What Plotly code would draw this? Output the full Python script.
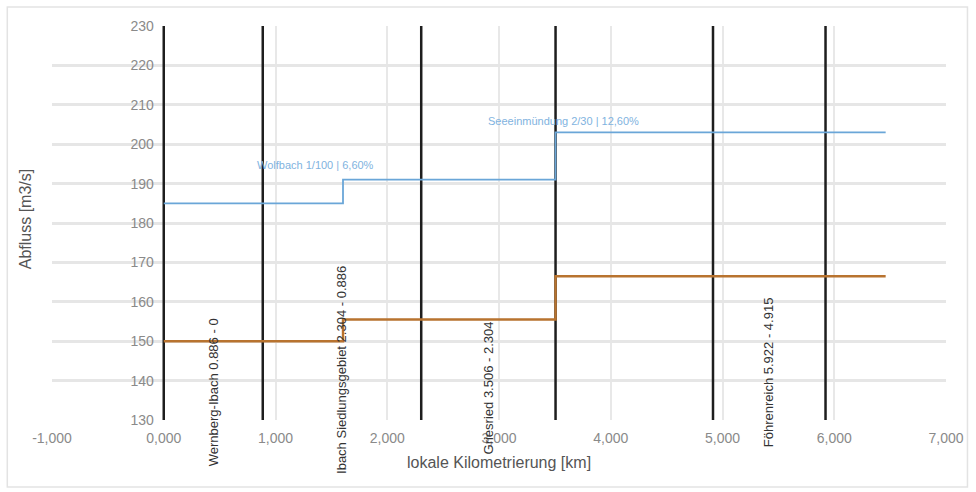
import plotly.graph_objects as go

# Abfluss-Längsschnitt: Abflussstufen entlang der lokalen Kilometrierung
blue_km = [0.0, 1.604, 1.604, 3.506, 3.506, 6.46]
blue_q = [185, 185, 191, 191, 203, 203]
orange_km = [0.0, 1.604, 1.604, 3.506, 3.506, 6.46]
orange_q = [150, 150, 155.5, 155.5, 166.5, 166.5]

# Abschnittsgrenzen (km) und Abschnittsbezeichnungen
boundaries = [0.0, 0.886, 2.304, 3.506, 4.915, 5.922]
section_names = ["Wernberg-Ibach 0.886 - 0",
                 "Ibach Siedlungsgebiet 2.304 - 0.886",
                 "Griesried 3.506 - 2.304",
                 "Föhrenreich 5.922 - 4.915"]
section_index = [(0, 1), (1, 2), (2, 3), (4, 5)]

blue_labels = ["Wolfbach 1/100 | 6,60%", "Seeeinmündung 2/30 | 12,60%"]

x_ticks = [-1, 0, 1, 2, 3, 4, 5, 6, 7]
x_ticktext = ["-1,000", "0,000", "1,000", "2,000", "3,000",
              "4,000", "5,000", "6,000", "7,000"]
y_ticks = [130, 140, 150, 160, 170, 180, 190, 200, 210, 220, 230]

Y_MIN, Y_MAX = 130, 230
FONT = "Liberation Sans, Arial, sans-serif"

fig = go.Figure()

# vertical section boundaries
for b in boundaries:
    fig.add_trace(go.Scatter(x=[b, b], y=[Y_MIN, Y_MAX], mode="lines",
                             line=dict(color="#1e1e1e", width=2.5),
                             hoverinfo="skip", showlegend=False))

fig.add_trace(go.Scatter(x=blue_km, y=blue_q, mode="lines",
                         line=dict(color="#6aa6d8", width=1.8),
                         showlegend=False))
fig.add_trace(go.Scatter(x=orange_km, y=orange_q, mode="lines",
                         line=dict(color="#b8732f", width=2.4),
                         showlegend=False))

annotations = []
label_centers = [0.071, 0.127, 0.081, 0.122]
for name, (i0, i1), yc in zip(section_names, section_index, label_centers):
    annotations.append(dict(
        x=(boundaries[i0] + boundaries[i1]) / 2, xref="x",
        y=yc, yref="paper", text=name, textangle=-90, showarrow=False,
        xanchor="center", yanchor="middle",
        font=dict(family=FONT, size=13, color="#333333")))

annotations.append(dict(x=1.36, y=194.6, xref="x", yref="y", text=blue_labels[0],
                        showarrow=False, font=dict(family=FONT, size=11, color="#7fb3e0")))
annotations.append(dict(x=3.58, y=206.0, xref="x", yref="y", text=blue_labels[1],
                        showarrow=False, font=dict(family=FONT, size=11, color="#7fb3e0")))

annotations.append(dict(x=-0.03, y=0.51, xref="paper", yref="paper",
                        xanchor="center", yanchor="middle",
                        text="Abfluss [m3/s]", textangle=-90, showarrow=False,
                        font=dict(family=FONT, size=16, color="#555555")))
annotations.append(dict(x=0.5, y=-0.107, xref="paper", yref="paper",
                        text="lokale Kilometrierung [km]", showarrow=False,
                        yanchor="middle",
                        font=dict(family=FONT, size=16, color="#555555")))

fig.update_layout(
    width=976, height=492,
    margin=dict(l=52, r=30, t=26, b=72),
    paper_bgcolor="white", plot_bgcolor="white",
    annotations=annotations,
    shapes=[dict(type="rect", xref="paper", yref="paper",
                 x0=-0.05, x1=1.024, y0=-0.17, y1=1.048,
                 line=dict(color="#e3e3e3", width=1.5), layer="below")],
    xaxis=dict(range=[-1, 7], tickvals=x_ticks, ticktext=x_ticktext,
               showgrid=True, gridcolor="#e8e8e8", gridwidth=1.5,
               zeroline=False, showline=False, ticks="",
               ticklabelstandoff=8,
               tickfont=dict(family=FONT, size=14, color="#8a8a8a")),
    yaxis=dict(range=[Y_MIN, Y_MAX], tickvals=y_ticks,
               anchor="free", position=0.125,
               showgrid=True, gridcolor="#e6e6e6", gridwidth=2.5,
               zeroline=False, showline=False, ticks="",
               ticklabelstandoff=10,
               tickfont=dict(family=FONT, size=14, color="#8a8a8a")),
)

fig.write_html("out.html")
